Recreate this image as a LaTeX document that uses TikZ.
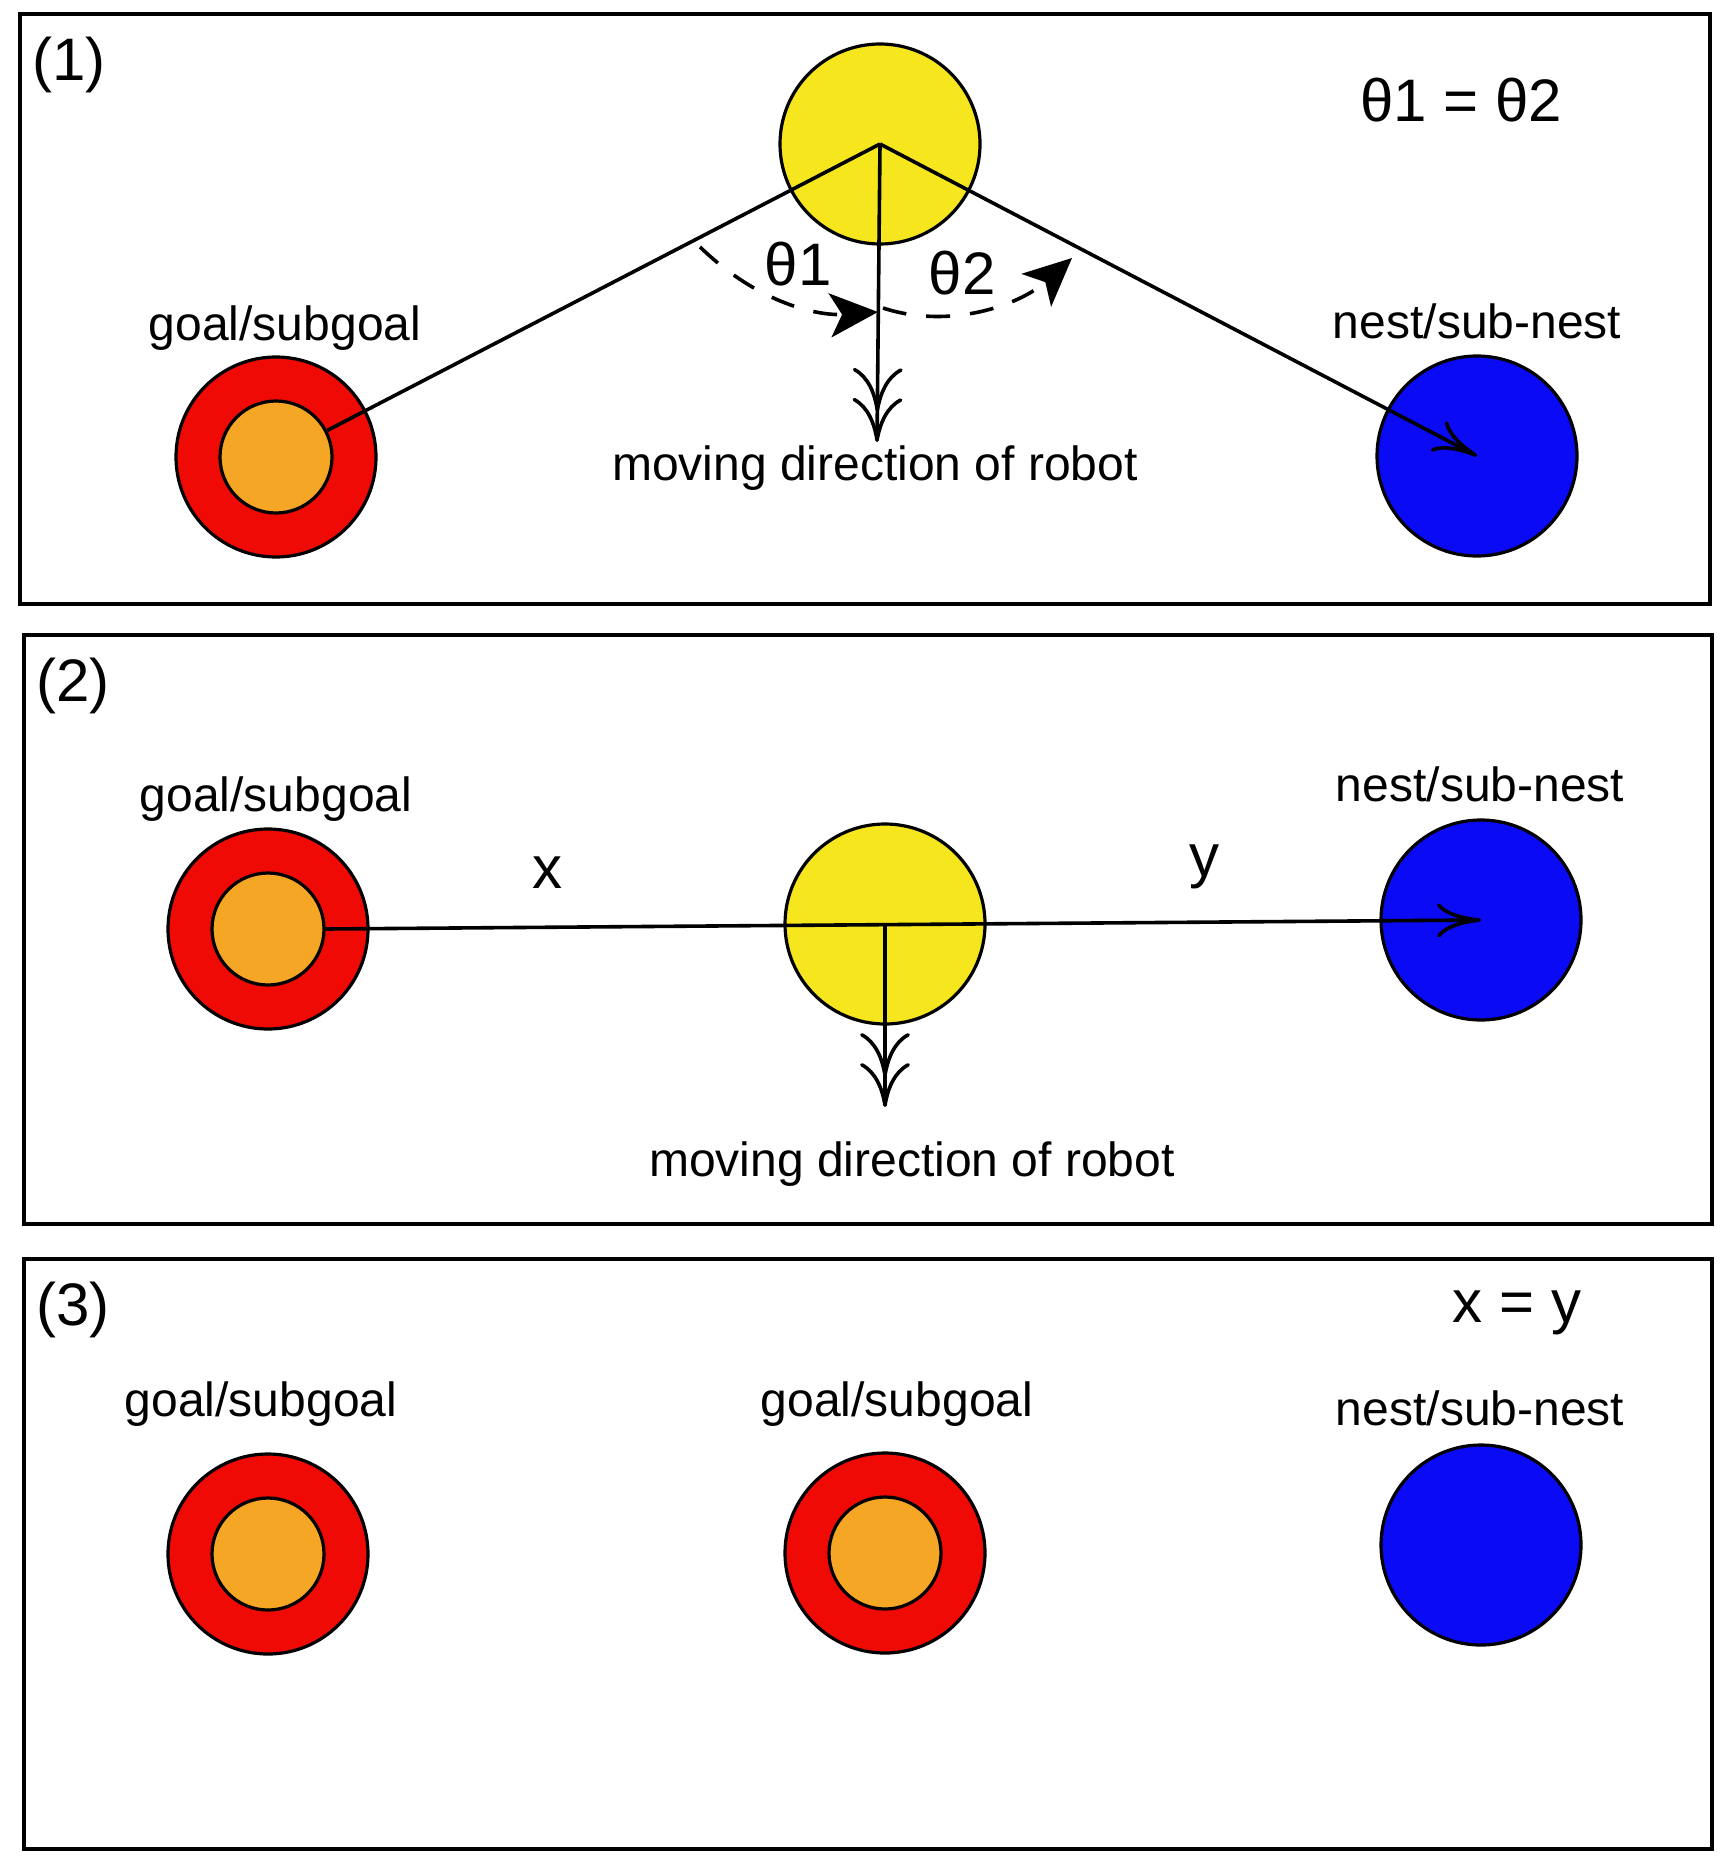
\documentclass[tikz,border=0pt]{standalone}
\usepackage{fontspec}
\setmainfont{Liberation Sans}
\usetikzlibrary{arrows.meta}
\definecolor{ylw}{RGB}{246,230,30}
\definecolor{rd}{RGB}{240,10,5}
\definecolor{org}{RGB}{244,166,36}
\definecolor{blu}{RGB}{10,10,245}
\begin{document}
\begin{tikzpicture}[x=0.5pt,y=-0.5pt,
  frame/.style={line width=1.8pt},
  robot/.style={circle,draw,line width=1.6pt,fill=ylw,minimum size=100pt,inner sep=0pt},
  goalout/.style={circle,draw,line width=1.6pt,fill=rd,minimum size=100pt,inner sep=0pt},
  goalin/.style={circle,draw,line width=1.6pt,fill=org,minimum size=56pt,inner sep=0pt},
  nest/.style={circle,draw,line width=1.6pt,fill=blu,minimum size=100pt,inner sep=0pt},
  conn/.style={line width=1.8pt},
  lbl/.style={font=\fontsize{24}{28}\selectfont,inner sep=0pt,yshift=-2pt},
  big/.style={font=\fontsize{30}{34}\selectfont,inner sep=0pt},
  dirtip/.style={-{To[length=22pt,width=25pt,sep=-7pt]To[length=22pt,width=25pt]}},
  totip/.style={-{To[length=22pt,width=17pt]}},
  angarc/.style={line width=1.8pt,dash pattern=on 12pt off 10pt,-{Stealth[length=24pt,width=22pt,inset=6pt]}}
]
\useasboundingbox (0,0) rectangle (1729,1867);
% frames
\draw[frame] (20,14) rectangle (1710,604);
\draw[frame] (24,635) rectangle (1712,1224);
\draw[frame] (24,1259) rectangle (1712,1849);

% ---------- panel 1
\node[big] (p1) at (69,65) {(1)};
\node[big] (eq1) at (1461,100) {θ1 = θ2};
\node[robot] (y1) at (880,144) {};
\node[goalout] (g1o) at (276,457) {};
\node[goalin] (g1i) at (276,457) {};
\node[nest] (b1) at (1477,456) {};
\node[lbl] (gl1) at (285,324) {goal/subgoal};
\node[lbl] (nl1) at (1477,317) {nest/sub-nest};
\node[lbl] (ml1) at (875,464) {moving direction of robot};
\node[big] (t1) at (798,264) {θ1};
\node[big] (t2) at (962,273) {θ2};
\coordinate (d1) at (877,442);
\draw[conn] (g1i) -- (y1.center);
\draw[conn,totip] (y1.center) -- (b1.center);
\draw[conn,dirtip] (y1.center) -- (d1);
\coordinate (a1s) at (700,247);
\coordinate (a1e) at (878,312);
\coordinate (a2s) at (883,308);
\coordinate (a2e) at (1072,258);
\draw[angarc] (a1s) .. controls (760,305) and (820,316) .. (a1e);
\draw[angarc] (a2s) .. controls (950,330) and (1020,305) .. (a2e);

% ---------- panel 2
\node[big] (p2) at (73,686) {(2)};
\node[robot] (y2) at (885,924) {};
\node[goalout] (g2o) at (268,929) {};
\node[goalin] (g2i) at (268,929) {};
\node[nest] (b2) at (1481,920) {};
\node[lbl] (gl2) at (276,795) {goal/subgoal};
\node[lbl] (nl2) at (1480,780) {nest/sub-nest};
\node[big] (x2) at (547,873) {x};
\node[big] (yy2) at (1204,867) {y};
\node[lbl] (ml2) at (912,1160) {moving direction of robot};
\coordinate (d2) at (885,1107);
\draw[conn,totip] (g2i.east) -- (b2.center);
\draw[conn,dirtip] (y2.center) -- (d2);

% ---------- panel 3
\node[big] (p3) at (73,1310) {(3)};
\node[big] (eq3) at (1517,1313) {x = y};
\node[goalout] (g3o) at (268,1554) {};
\node[goalin] (g3i) at (268,1554) {};
\node[goalout] (g4o) at (885,1553) {};
\node[goalin] (g4i) at (885,1553) {};
\node[nest] (b3) at (1481,1545) {};
\node[lbl] (gl3) at (261,1400) {goal/subgoal};
\node[lbl] (gl4) at (897,1400) {goal/subgoal};
\node[lbl] (nl3) at (1480,1404) {nest/sub-nest};
\end{tikzpicture}
\end{document}
